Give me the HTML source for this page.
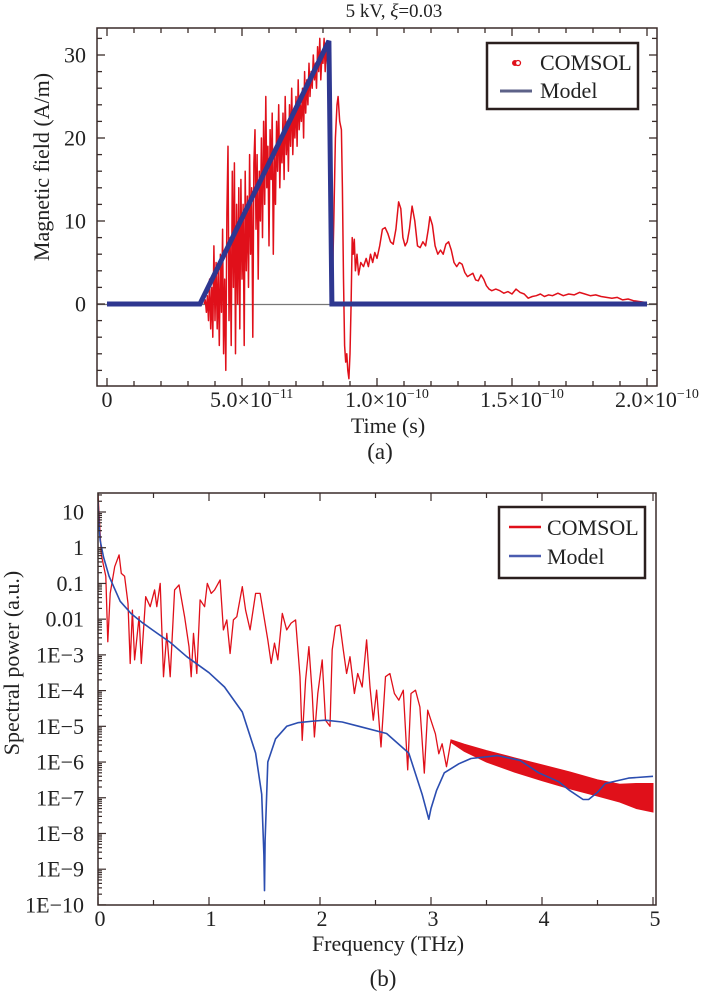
<!DOCTYPE html>
<html><head><meta charset="utf-8">
<style>
html,body{margin:0;padding:0;background:#fff;}
svg{display:block;font-family:"Liberation Serif",serif;}
</style></head>
<body>
<svg id="fig" width="708" height="995" viewBox="0 0 708 995" xmlns="http://www.w3.org/2000/svg">
  <g id="chartA"></g>
  <g id="chartB"></g>
</svg>
<script>
// ---------- Chart (a) data ----------
const modelT = [0, 34.4, 82.2, 83.3, 200];           // ps
const modelH = [0, 0, 31.7, 0, 0];                   // A/m
const comsolT = [36,36.4,36.8,37.2,37.6,38,38.4,38.8,39.2,39.6,40,40.4,40.8,41.2,41.6,42,42.4,42.8,43.2,43.6,44,44.4,44.8,45.2,45.6,46,46.4,46.8,47.2,47.6,48,48.4,48.8,49.2,49.6,50,50.4,50.8,51.2,51.6,52,52.4,52.8,53.2,53.6,54,54.4,54.8,55.2,55.6,56,56.4,56.8,57.2,57.6,58,58.4,58.8,59.2,59.6,60,60.4,60.8,61.2,61.6,62,62.4,62.8,63.2,63.6,64,64.4,64.8,65.2,65.6,66,66.4,66.8,67.2,67.6,68,68.4,68.8,69.2,69.6,70,70.4,70.8,71.2,71.6,72,72.4,72.8,73.2,73.6,74,74.4,74.8,75.2,75.6,76,76.4,76.8,77.2,77.6,78,78.4,78.8,79.2,79.6,80,80.4,80.8,81.2,81.6,82,82.4,82.8,83.2,83.6,84,84.6,85.2,85.6,86.2,86.8,87.2,87.6,88,88.4,88.8,89.2,89.6,90,90.4,90.8,91.2,91.6,92,92.6,93.2,94,95,96,96.8,97.6,98.4,99.2,100,101,102,103,104,105,106,107,108,108.8,109.6,110.4,111.2,112,113,114,115,116,117,118,119,119.6,120.5,121.5,122.5,123.5,124.5,125.5,126.5,127.5,128.5,129.5,130.5,131.5,132.5,133.5,134.5,135.5,136.5,137.5,138.5,139.5,140.5,141.5,142.5,144,145.5,147,148.5,150,151.5,153,154.5,156,157.5,159,160.5,162,163.5,165,167,169,171,173,175,177,179,181,183,185,187,189,191,193,195,197,199,200];
const comsolH = [0,0.5,-1,1,-2,3,-3,2,-4,7,-2,5,-3,4,-5,6,-1,9,-6,3,-8,11,19,-2,8,-5,16,2,17,-6,12,0,14,-3,15,3,12,-5,16,4,13,2,18,6,14,-4,17,21,9,18,3,16,10,20,8,22,12,25,14,19,7,21,15,23,6,18,12,22,16,24,14,20,17,23,15,25,18,22,16,24,19,26,18,23,20,25,19,27,21,24,22,26,20,28,23,27,24,29,25,28,26,30,27,29,26,31,28,32,27,30,29,32,28,31,29,30,20,5,2,4,10,20,24,25,22,21,14,3,-5,-7,-6,-8,-9,-6,0,8,6,7.8,4,6,3.5,5,4.5,5.5,4.5,6,5,6.2,5.5,7,9,9.2,8.5,7.5,7.2,9,12.3,11.5,8,7,7.5,9,11.8,10,7,6.8,7.5,7,9,10.5,9.5,7,6,6.5,6,7.2,7.5,6.5,5,4.5,5,4.8,3.8,3.3,3.5,3.7,2.9,2.8,3.5,3.0,2.2,1.8,1.6,1.8,1.6,1.3,1.5,1.2,1.8,1.4,1.2,0.7,0.9,1.0,1.2,0.9,1.1,1.0,1.3,1.0,1.2,1.1,1.4,1.2,1.0,1.1,0.9,0.8,0.7,0.8,0.5,0.6,0.4,0.3,0.2,0.1];
const xTicksA = [0, 50, 100, 150, 200];              // ps
const xTickMantA = ["0", "5.0", "1.0", "1.5", "2.0"];
const xTickExpA = ["", "−11", "−10", "−10", "−10"];
const yTicksA = [0, 10, 20, 30];

// ---------- Chart (b) data ----------
const modelF = [0,0.01,0.02,0.05,0.1,0.2,0.3,0.4,0.49,0.65,0.8,1.0,1.14,1.3,1.42,1.475,1.495,1.5,1.505,1.53,1.6,1.7,1.8,1.95,2.05,2.2,2.35,2.6,2.8,2.92,2.98,3.0,3.05,3.12,3.25,3.36,3.6,3.8,3.97,4.15,4.25,4.37,4.42,4.5,4.57,4.78,5.0];
const modelLog = [1.3,0.6,0.2,-0.26,-0.8,-1.5,-1.85,-2.1,-2.3,-2.65,-3.05,-3.5,-3.9,-4.6,-5.75,-6.9,-8.6,-9.6,-8.2,-6.0,-5.35,-5.0,-4.9,-4.85,-4.83,-4.88,-5.0,-5.2,-5.75,-6.9,-7.6,-7.3,-6.8,-6.3,-6.05,-5.9,-5.82,-5.95,-6.3,-6.55,-6.8,-7.05,-7.05,-6.85,-6.6,-6.45,-6.4];
const comsolF = [0,0.03,0.07,0.088,0.11,0.15,0.19,0.21,0.24,0.27,0.29,0.31,0.33,0.37,0.39,0.43,0.47,0.51,0.53,0.56,0.59,0.62,0.65,0.69,0.73,0.78,0.82,0.84,0.86,0.89,0.92,0.96,0.985,1.02,1.05,1.10,1.13,1.16,1.19,1.22,1.25,1.30,1.33,1.37,1.42,1.46,1.50,1.53,1.56,1.59,1.62,1.66,1.70,1.74,1.78,1.82,1.84,1.87,1.90,1.93,1.95,1.98,2.02,2.05,2.09,2.11,2.14,2.18,2.21,2.24,2.27,2.31,2.34,2.38,2.42,2.45,2.48,2.51,2.55,2.59,2.63,2.67,2.71,2.75,2.79,2.82,2.86,2.90,2.94,2.97,3.01,3.04,3.07,3.10,3.14,3.18];
const comsolLog = [1.5,-0.2,-0.8,-2.63,-1.28,-0.53,-0.2,-0.72,-0.8,-1.56,-3.24,-1.75,-3.14,-1.93,-3.24,-1.37,-1.65,-1.18,-1.65,-1.0,-3.61,-2.4,-3.61,-1.18,-1.04,-1.93,-2.77,-3.61,-2.4,-3.52,-1.46,-1.65,-1.0,-1.28,-1.18,-0.9,-2.3,-2.02,-2.96,-2.02,-1.93,-1.09,-1.75,-2.3,-1.28,-1.28,-2.02,-2.58,-3.24,-2.67,-3.14,-1.84,-2.3,-2.11,-2.02,-3.61,-5.39,-3.7,-2.77,-4.08,-5.3,-4.08,-3.14,-4.83,-5.0,-2.86,-2.2,-2.16,-2.86,-3.52,-3.05,-4.08,-3.52,-3.9,-2.58,-3.9,-4.83,-3.99,-5.58,-3.61,-3.52,-4.08,-4.27,-3.99,-6.22,-4.08,-3.99,-4.46,-6.31,-4.55,-4.93,-5.21,-5.77,-5.49,-6.13,-5.39];
const bandF = [3.18,3.3,3.5,3.75,4.0,4.25,4.5,4.7,4.85,5.0];
const bandUpper = [-5.38,-5.5,-5.68,-5.88,-6.08,-6.28,-6.5,-6.62,-6.6,-6.6];
const bandLower = [-5.45,-5.7,-6.0,-6.28,-6.52,-6.75,-6.95,-7.12,-7.3,-7.4];
const xTicksB = [0,1,2,3,4,5];
const yTicksBexp = [1,0,-1,-2,-3,-4,-5,-6,-7,-8,-9,-10];
const yTickLabelsB = ["10","1","0.1","0.01","1E−3","1E−4","1E−5","1E−6","1E−7","1E−8","1E−9","1E−10"];

const NS = "http://www.w3.org/2000/svg";
function mk(tag, parent, attrs) {
  const e = document.createElementNS(NS, tag);
  for (const k in attrs) e.setAttribute(k, attrs[k]);
  parent.appendChild(e);
  return e;
}
const FR = "#3a2c2a";

// ---------- Chart (a) ----------
(function(){
  const g = document.getElementById('chartA');
  const L = 97, R = 657, T = 28, B = 386;
  const sx = t => 107 + t * 2.7;
  const sy = v => 304 - v * 8.3;

  const title = mk('text', g, {x: 394, y: 17, 'text-anchor': 'middle', 'font-size': 19, fill: '#222'});
  
  
  title.innerHTML = '5 kV, <tspan font-style="italic">ξ</tspan>=0.03';

  const zl = mk('line', g, {x1: L, x2: R, y1: sy(0)+0.5, y2: sy(0)+0.5, stroke: '#777', 'stroke-width': 1.2});
  
  

  let d = '';
  comsolT.forEach((t, i) => { d += (i ? 'L' : 'M') + sx(t).toFixed(1) + ' ' + sy(comsolH[i]).toFixed(1); });
  const cp = mk('path', g, {d: d, fill: 'none', stroke: '#e0101a', 'stroke-width': 1.5, 'stroke-linejoin': 'round'});
  
  

  d = '';
  modelT.forEach((t, i) => { d += (i ? 'L' : 'M') + sx(t).toFixed(1) + ' ' + sy(modelH[i]).toFixed(1); });
  const mp = mk('path', g, {d: d, fill: 'none', stroke: '#2e3790', 'stroke-width': 5, 'stroke-linejoin': 'miter'});
  
  

  const fr = mk('rect', g, {x: L, y: T, width: R-L, height: B-T, fill: 'none', stroke: FR, 'stroke-width': 1.5});
  
  

  const tk = mk('g', g, {stroke: FR, 'stroke-width': 1.3});
  
  
  for (let t = 0; t <= 200; t += 10) {
    const x = sx(t), len = (t % 50 === 0) ? 8 : 5;
    mk('line', tk, {x1: x, x2: x, y1: B, y2: B-len});
    mk('line', tk, {x1: x, x2: x, y1: T, y2: T+len});
  }
  for (let v = -8; v <= 32; v += 2) {
    const y = sy(v), len = (v % 10 === 0) ? 8 : 5;
    mk('line', tk, {x1: L, x2: L+len, y1: y, y2: y});
    mk('line', tk, {x1: R, x2: R-len, y1: y, y2: y});
  }
  yTicksA.forEach(v => {
    const t = mk('text', g, {x: 86, y: sy(v)+7.5, 'text-anchor': 'end', 'font-size': 22, fill: '#222'});
    
    
    t.textContent = v;
  });
  xTicksA.forEach((v, i) => {
    const x = sx(v);
    const t = mk('text', g, {x: i === 0 ? x : x - 32, y: 407, 'text-anchor': i === 0 ? 'middle' : 'start', 'font-size': 22, fill: '#222'});
    
    
    if (i === 0) t.textContent = xTickMantA[i];
    else t.innerHTML = xTickMantA[i] + '×10<tspan font-size="14" dy="-9">' + xTickExpA[i] + '</tspan>';
  });
  const xt = mk('text', g, {x: 388, y: 433, 'text-anchor': 'middle', 'font-size': 22, fill: '#222'});
  
  
  xt.textContent = 'Time (s)';
  const yt = mk('text', g, {x: 0, y: 0, transform: 'translate(49,167) rotate(-90)', 'text-anchor': 'middle', 'font-size': 22, fill: '#222'});
  
  
  yt.textContent = 'Magnetic field (A/m)';
  const pa = mk('text', g, {x: 380, y: 459, 'text-anchor': 'middle', 'font-size': 23, fill: '#222'});
  
  
  pa.textContent = '(a)';

  const lg = mk('g', g, {});
  
  
  mk('rect', lg, {x: 487, y: 43, width: 151, height: 66, fill: '#fff', stroke: '#2a1f1e', 'stroke-width': 2.5});
  const m1 = mk('circle', lg, {cx: 515, cy: 63, r: 2.5, fill: '#e0101a', stroke: '#e0101a'});
  
  
  mk('circle', lg, {cx: 518, cy: 63, r: 2.5, fill: '#fff', stroke: '#e0101a', 'stroke-width': 1.3});
  const t1 = mk('text', lg, {x: 540, y: 70, 'font-size': 22, fill: '#222'});
  
  
  t1.textContent = 'COMSOL';
  const l2 = mk('line', lg, {x1: 500, x2: 532, y1: 91, y2: 91, stroke: '#5d6288', 'stroke-width': 3});
  
  
  const t2 = mk('text', lg, {x: 540, y: 98, 'font-size': 22, fill: '#222'});
  
  
  t2.textContent = 'Model';
})();

// ---------- Chart (b) ----------
(function(){
  const g = document.getElementById('chartB');
  const L = 98, R = 656, T = 493, B = 905;
  const sx = f => 98 + f * 111;
  const sy = lg => 512 + (1 - lg) * 35.72;

  const clip = mk('clipPath', g, {id: 'clipB'});
  mk('rect', clip, {x: L, y: T, width: R-L, height: B-T});

  let d = '';
  comsolF.forEach((f, i) => { d += (i ? 'L' : 'M') + sx(f).toFixed(1) + ' ' + sy(comsolLog[i]).toFixed(1); });
  const cp = mk('path', g, {d: d, fill: 'none', stroke: '#e0101a', 'stroke-width': 1.3, 'stroke-linejoin': 'round', 'clip-path': 'url(#clipB)'});
  
  
  d = '';
  bandF.forEach((f, i) => { d += (i ? 'L' : 'M') + sx(f).toFixed(1) + ' ' + sy(bandUpper[i]).toFixed(1); });
  for (let i = bandF.length - 1; i >= 0; i--) d += 'L' + sx(bandF[i]).toFixed(1) + ' ' + sy(bandLower[i]).toFixed(1);
  d += 'Z';
  const bp = mk('path', g, {d: d, fill: '#e0101a', stroke: '#e0101a', 'stroke-width': 1, 'clip-path': 'url(#clipB)'});
  
  

  d = '';
  modelF.forEach((f, i) => { d += (i ? 'L' : 'M') + sx(f).toFixed(1) + ' ' + sy(modelLog[i]).toFixed(1); });
  const mp = mk('path', g, {d: d, fill: 'none', stroke: '#2b4db0', 'stroke-width': 1.6, 'stroke-linejoin': 'round', 'clip-path': 'url(#clipB)'});
  
  

  const fr = mk('rect', g, {x: L, y: T, width: R-L, height: B-T, fill: 'none', stroke: FR, 'stroke-width': 1.5});
  
  

  const tk = mk('g', g, {stroke: FR, 'stroke-width': 1.2});
  
  
  for (let f = 0; f <= 5.001; f += 0.5) {
    const x = sx(f), len = (Math.abs(f - Math.round(f)) < 0.01) ? 8 : 5;
    mk('line', tk, {x1: x, x2: x, y1: B, y2: B-len});
    mk('line', tk, {x1: x, x2: x, y1: T, y2: T+len});
  }
  for (let e = -10; e <= 1; e++) {
    for (let k = 1; k <= 9; k++) {
      const y = sy(e + Math.log10(k));
      if (y < T) continue;
      mk('line', tk, {x1: L, x2: L + (k === 1 ? 8 : 4), y1: y, y2: y});
    }
  }
  yTicksBexp.forEach((e, i) => {
    const t = mk('text', g, {x: 84, y: sy(e)+7.5, 'text-anchor': 'end', 'font-size': 22, fill: '#222'});
    
    
    t.textContent = yTickLabelsB[i];
  });
  xTicksB.forEach(f => {
    const t = mk('text', g, {x: sx(f)+2, y: 926, 'text-anchor': 'middle', 'font-size': 22, fill: '#222'});
    
    
    t.textContent = f;
  });
  const xt = mk('text', g, {x: 388, y: 951, 'text-anchor': 'middle', 'font-size': 22, fill: '#222'});
  
  
  xt.textContent = 'Frequency (THz)';
  const yt = mk('text', g, {x: 0, y: 0, transform: 'translate(19,663) rotate(-90)', 'text-anchor': 'middle', 'font-size': 22, fill: '#222'});
  
  
  yt.textContent = 'Spectral power (a.u.)';
  const pb = mk('text', g, {x: 383, y: 986, 'text-anchor': 'middle', 'font-size': 23, fill: '#222'});
  
  
  pb.textContent = '(b)';

  const lg = mk('g', g, {});
  
  
  mk('rect', lg, {x: 499, y: 507, width: 146, height: 71, fill: '#fff', stroke: '#2a1f1e', 'stroke-width': 2.5});
  const l1 = mk('line', lg, {x1: 509, x2: 541, y1: 527, y2: 527, stroke: '#e0101a', 'stroke-width': 2.5});
  
  
  const t1 = mk('text', lg, {x: 547, y: 535, 'font-size': 22, fill: '#222'});
  
  
  t1.textContent = 'COMSOL';
  const l2 = mk('line', lg, {x1: 509, x2: 541, y1: 556, y2: 556, stroke: '#4a5cb0', 'stroke-width': 2.5});
  
  
  const t2 = mk('text', lg, {x: 547, y: 564, 'font-size': 22, fill: '#222'});
  
  
  t2.textContent = 'Model';
})();
</script>
</body></html>
